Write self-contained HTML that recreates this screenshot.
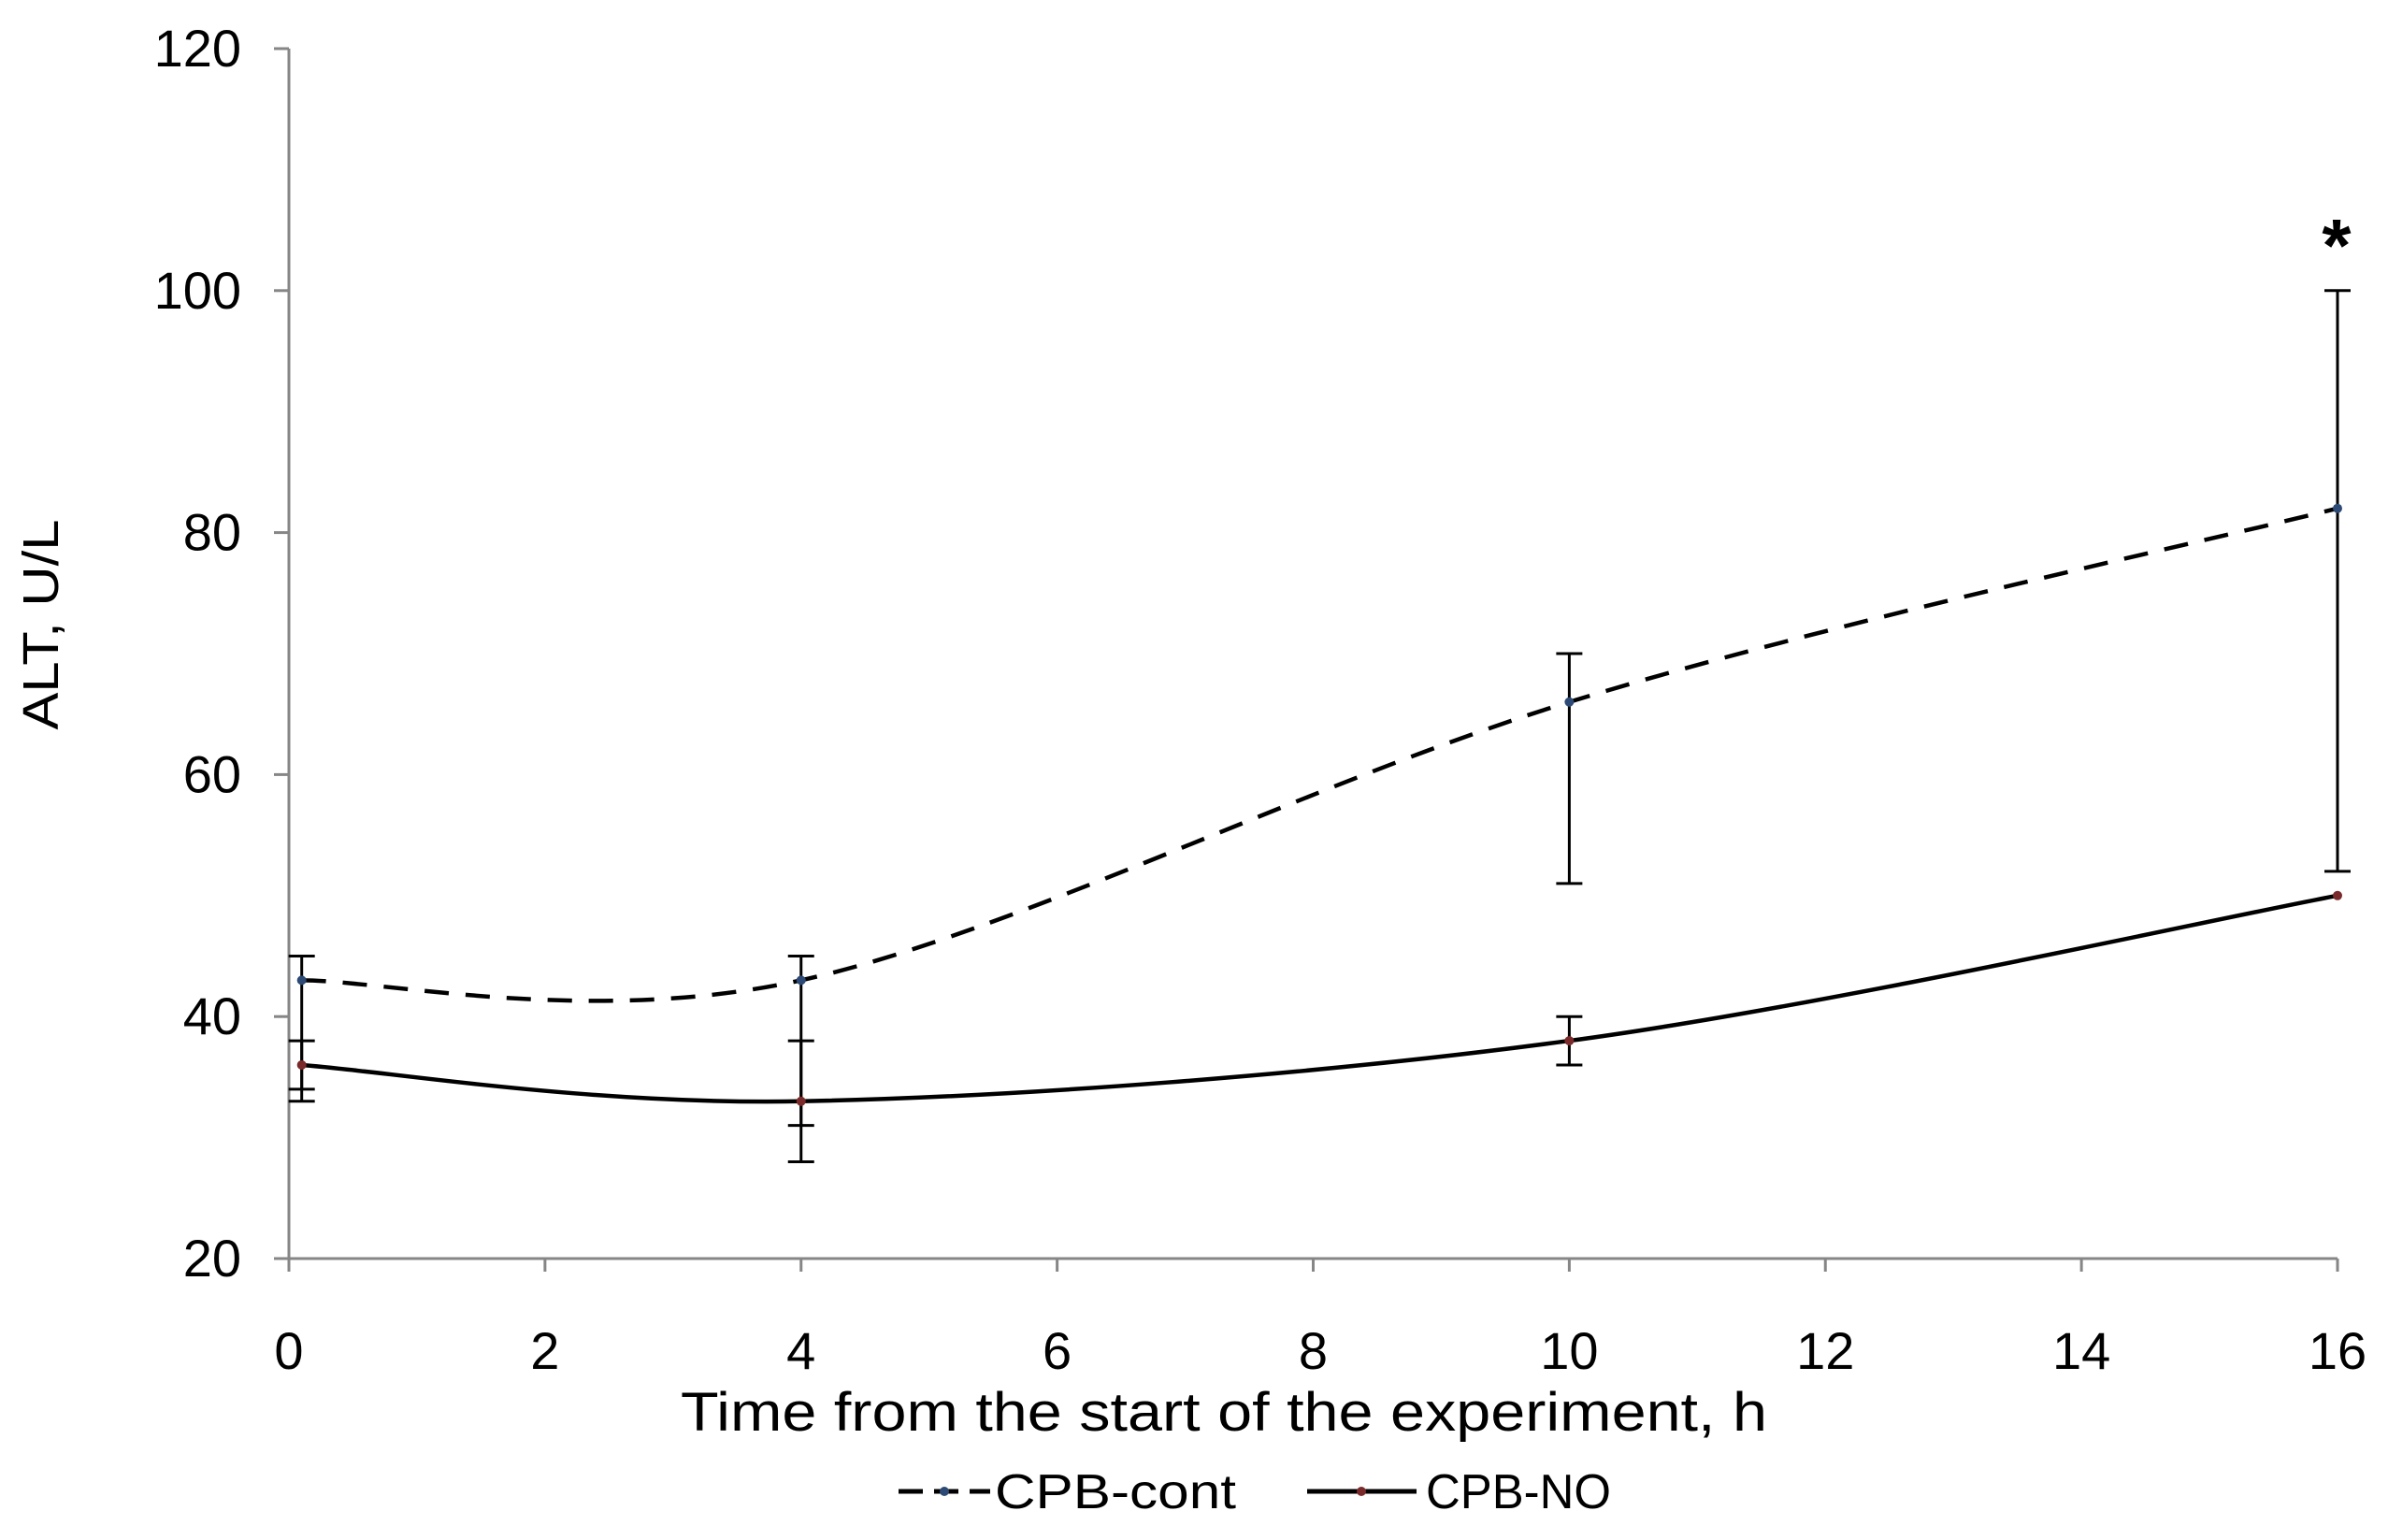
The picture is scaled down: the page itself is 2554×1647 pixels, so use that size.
<!DOCTYPE html>
<html><head><meta charset="utf-8"><style>
html,body{margin:0;padding:0;background:#fff}
svg{display:block;font-family:"Liberation Sans",sans-serif}
</style></head><body>
<svg id="chart" width="2554" height="1647" viewBox="0 0 2554 1647">
<g id="axes"></g>
<g id="marks"></g>
<text x="62" y="668" transform="rotate(-90 62 668)" text-anchor="middle" font-size="54" fill="#000" textLength="225" lengthAdjust="spacingAndGlyphs">ALT, U/L</text>
<text x="1309" y="1530" text-anchor="middle" font-size="58" fill="#000" textLength="1162" lengthAdjust="spacingAndGlyphs">Time from the start of the experiment,  h</text>
<text x="2499" y="290" text-anchor="middle" font-size="80" font-weight="bold" fill="#000">*</text>
<g>
 <g>
  <line x1="961" y1="1595" x2="1059" y2="1595" stroke="#000" stroke-width="5" stroke-dasharray="26,12"/>
  <circle cx="1010" cy="1595" r="5" fill="#2c4a75"/>
  <text x="1064" y="1613" font-size="52" textLength="258" lengthAdjust="spacingAndGlyphs">CPB-cont</text>
 </g>
 <g>
  <line x1="1398" y1="1595" x2="1515" y2="1595" stroke="#000" stroke-width="5"/>
  <circle cx="1456" cy="1595" r="5" fill="#7a2a2a"/>
  <text x="1525" y="1613" font-size="52" textLength="198" lengthAdjust="spacingAndGlyphs">CPB-NO</text>
 </g>
</g>
</svg>
<script>
const xValues = [0.1, 4, 10, 16];
const contValues = [43, 43, 66, 82];
const contHigh = [45, 45, 70, 100];
const contLow = [34, 31, 51, 52];
const noValues = [36, 33, 38, 50];
const noHigh = [38, 38, 40, 50];
const noLow = [33, 28, 36, 50];
const yTicks = [20, 40, 60, 80, 100, 120];
const xTicks = [0, 2, 4, 6, 8, 10, 12, 14, 16];

const NS = "http://www.w3.org/2000/svg";
const X0 = 309, X1 = 2500, Y0 = 1346, Y1 = 52;
function sx(v){ return X0 + (v - 0) / 16 * (X1 - X0); }
function sy(v){ return Y0 - (v - 20) / 100 * (Y0 - Y1); }
function mk(tag, attrs, parent){
  const e = document.createElementNS(NS, tag);
  for (const k in attrs) e.setAttribute(k, attrs[k]);
  parent.appendChild(e);
  return e;
}
const axes = document.getElementById('axes');
const marks = document.getElementById('marks');

let el = mk('line', {x1:X0, y1:Y1, x2:X0, y2:Y0, stroke:'#868686', 'stroke-width':3}, axes);


el = mk('line', {x1:X0, y1:Y0, x2:X1, y2:Y0, stroke:'#868686', 'stroke-width':3}, axes);



yTicks.forEach(t => {
  const y = sy(t);
  const tk = mk('line', {x1:X0-16, y1:y, x2:X0, y2:y, stroke:'#868686', 'stroke-width':3}, axes);
  
  
  const lb = mk('text', {x:258, y:y+19, 'text-anchor':'end', 'font-size':56, fill:'#000'}, axes);
  lb.textContent = t;
  
  
});
xTicks.forEach(t => {
  const x = sx(t);
  const tk = mk('line', {x1:x, y1:Y0, x2:x, y2:Y0+14, stroke:'#868686', 'stroke-width':3}, axes);
  
  
  const lb = mk('text', {x:x, y:1464, 'text-anchor':'middle', 'font-size':56, fill:'#000'}, axes);
  lb.textContent = t;
  
  
});

function smoothPath(xs, ys){
  const p = xs.map((x,i)=>[sx(x), sy(ys[i])]);
  let d = 'M' + p[0][0] + ',' + p[0][1];
  for (let i=0;i<p.length-1;i++){
    const a = p[i-1]||p[i], b=p[i], c=p[i+1], e=p[i+2]||c;
    const t = 1/6;
    const c1=[b[0]+(c[0]-a[0])*t, b[1]+(c[1]-a[1])*t];
    const c2=[c[0]-(e[0]-b[0])*t, c[1]-(e[1]-b[1])*t];
    d += ' C'+c1[0]+','+c1[1]+' '+c2[0]+','+c2[1]+' '+c[0]+','+c[1];
  }
  return d;
}
function errBars(hi, lo, name){
  xValues.forEach((xv,i)=>{
    if (hi[i] === lo[i]) return;
    const x = sx(xv);
    const g = mk('g', {stroke:'#000', 'stroke-width':3}, marks);
    
    
    mk('line', {x1:x, y1:sy(hi[i]), x2:x, y2:sy(lo[i])}, g);
    mk('line', {x1:x-14, y1:sy(hi[i]), x2:x+14, y2:sy(hi[i])}, g);
    mk('line', {x1:x-14, y1:sy(lo[i]), x2:x+14, y2:sy(lo[i])}, g);
  });
}
errBars(contHigh, contLow, 'error-bar-cpb-cont');
errBars(noHigh, noLow, 'error-bar-cpb-no');

el = mk('path', {d:smoothPath(xValues, contValues), fill:'none', stroke:'#000', 'stroke-width':4.5, 'stroke-dasharray':'26,18'}, marks);


el = mk('path', {d:smoothPath(xValues, noValues), fill:'none', stroke:'#000', 'stroke-width':4.5}, marks);



xValues.forEach((xv,i)=>{
  const a = mk('circle', {cx:sx(xv), cy:sy(contValues[i]), r:5, fill:'#2c4a75'}, marks);
  
  
  const b = mk('circle', {cx:sx(xv), cy:sy(noValues[i]), r:5, fill:'#7a2a2a'}, marks);
  
  
});
</script>
</body></html>
